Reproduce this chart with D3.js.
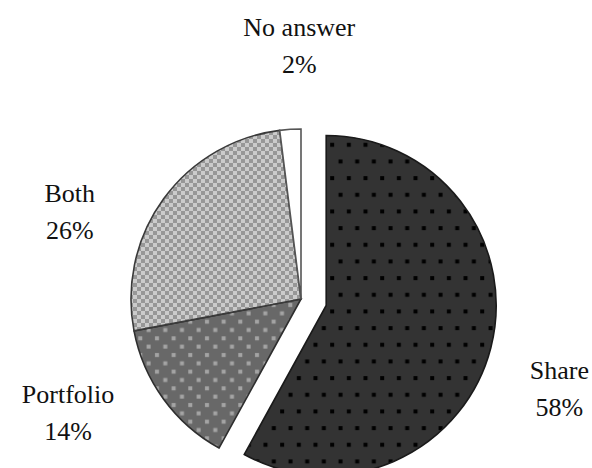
<!DOCTYPE html>
<html>
<head>
<meta charset="utf-8">
<script src="https://cdn.jsdelivr.net/npm/d3@7/dist/d3.min.js"></script>
<style>
  html, body { margin: 0; padding: 0; background: #fff; }
  svg { display: block; }
</style>
</head>
<body>
<svg id="chart" width="592" height="468"></svg>
<script>
// Answers, in drawing order clockwise from 12 o'clock
const categories = ["Share", "Portfolio", "Both", "No answer"];
const percents = [58, 14, 26, 2];
const valueLabels = ["58%", "14%", "26%", "2%"];

const width = 592, height = 468;
const cx = 301, cy = 299, radius = 170;
const explodeDist = 26;           // the "Share" slice is pulled out
const exploded = new Set(["Share"]);

const svg = d3.select("#chart");
const defs = svg.append("defs");

// Fill patterns
function dotPattern(id, w, h, bg, dot, dots, size) {
  const p = defs.append("pattern").attr("id", id)
    .attr("patternUnits", "userSpaceOnUse").attr("width", w).attr("height", h);
  p.append("rect").attr("width", w).attr("height", h).attr("fill", bg);
  dots.forEach(([x, y]) => p.append("rect")
    .attr("x", x).attr("y", y).attr("width", size).attr("height", size).attr("fill", dot));
}
dotPattern("pat-share", 16.67, 33.33, "#333333", "#000000", [[4, 4], [12.33, 20.67]], 4);
dotPattern("pat-portfolio", 16.67, 16.67, "#686868", "#a4a4a4", [[4, 4], [12.33, 12.33]], 4);
const chk = defs.append("pattern").attr("id", "pat-both")
  .attr("patternUnits", "userSpaceOnUse").attr("width", 8).attr("height", 8);
chk.append("rect").attr("width", 8).attr("height", 8).attr("fill", "#cbcbcb");
chk.append("rect").attr("x", 0).attr("y", 0).attr("width", 4).attr("height", 4).attr("fill", "#979797");
chk.append("rect").attr("x", 4).attr("y", 4).attr("width", 4).attr("height", 4).attr("fill", "#979797");

const fills = {
  "Share": "url(#pat-share)",
  "Portfolio": "url(#pat-portfolio)",
  "Both": "url(#pat-both)",
  "No answer": "#ffffff"
};
const strokes = {
  "Share": "#1a1a1a",
  "Portfolio": "#2e2e2e",
  "Both": "#3a3a3a",
  "No answer": "#555555"
};

const data = categories.map((c, i) => ({ name: c, value: percents[i], label: valueLabels[i] }));

const pie = d3.pie().sort(null).value(d => d.value);
const arc = d3.arc().innerRadius(0).outerRadius(radius);
const arcs = pie(data);

const g = svg.append("g").attr("transform", `translate(${cx},${cy})`);

function offset(d) {
  if (!exploded.has(d.data.name)) return [0, 0];
  const a = (d.startAngle + d.endAngle) / 2;
  return [explodeDist * Math.sin(a), -explodeDist * Math.cos(a)];
}

g.selectAll("path.slice")
  .data(arcs)
  .join("path")
  .attr("class", "slice")
  .attr("transform", d => { const [dx, dy] = offset(d); return `translate(${dx},${dy})`; })
  .attr("d", arc)
  .attr("fill", d => fills[d.data.name])
  .attr("stroke", d => strokes[d.data.name])
  .attr("stroke-width", 1.6)
  .attr("stroke-linejoin", "miter");

// Label placement, relative to the pie centre in units of the radius
const labelPos = {
  "Share":     [1.52, 0.47],
  "Portfolio": [-1.37, 0.61],
  "Both":      [-1.36, -0.57],
  "No answer": [-0.01, -1.55]
};
const lineGap = 37;

const labels = svg.append("g");
arcs.forEach(d => {
  const [ux, uy] = labelPos[d.data.name];
  const x = cx + ux * radius, y = cy + uy * radius;
  const t = labels.append("text")
    .attr("x", x).attr("y", y)
    .attr("text-anchor", "middle")
    .attr("font-family", "'Liberation Serif', 'Times New Roman', serif")
    .attr("font-size", 26)
    .attr("fill", "#111");
  t.append("tspan").attr("x", x).attr("dy", 0).text(d.data.name);
  t.append("tspan").attr("x", x).attr("dy", lineGap).text(d.data.label);
});
</script>
</body>
</html>
